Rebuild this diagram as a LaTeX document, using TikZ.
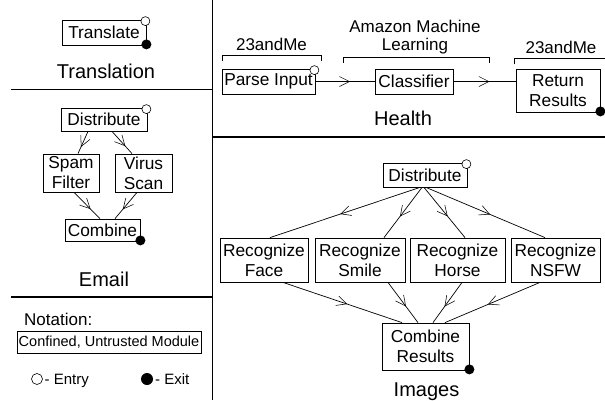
\documentclass[tikz,border=0pt]{standalone}
\usepackage{fontspec}
\setmainfont{Liberation Sans}
\usetikzlibrary{arrows.meta,decorations.markings,calc}

\begin{document}
\begin{tikzpicture}[x=1pt,y=-1pt,
  module/.style={draw, line width=0.8pt, inner sep=0pt, align=center,
    font=\fontsize{17.3}{20}\selectfont},
  entry/.style={circle, draw, fill=white, line width=0.6pt, minimum size=9pt, inner sep=0pt},
  exitpt/.style={circle, fill=black, minimum size=10pt, inner sep=0pt},
  flow/.style={line width=0.7pt, postaction={decorate},
    decoration={markings, mark=at position 0.5 with
      {\arrow[xshift=5pt]{Straight Barb[length=10pt,width=10pt,line width=0.55pt]}}}},
  grouptitle/.style={inner sep=0pt, anchor=base, font=\fontsize{20}{24}\selectfont},
  provider/.style={inner sep=0pt, font=\fontsize{17}{18.5}\selectfont, align=center},
  bracket/.style={line width=0.8pt},
  divider/.style={line width=1.2pt},
]
\useasboundingbox (0,0) rectangle (605,400);

% panel dividers
\draw[divider] (212.5,0) -- (212.5,400);
\draw[divider] (11,89.5) -- (212.5,89.5);
\draw[divider] (11,297) -- (212.5,297);
\draw[divider] (212.5,137) -- (605,137);

% ---- Translation ----
\node[module, minimum width=84pt, minimum height=25pt] (translate) at (104,32.5) {Translate};
\node[entry] (translate-in) at ($(translate.north east)+(-1,1.5)$) {};
\node[exitpt] (translate-out) at ($(translate.south east)+(0,-1)$) {};
\node[grouptitle] (t-translation) at (106,78) {Translation};

% ---- Email ----
\node[module, minimum width=86pt, minimum height=23pt] (distE) at (104,119.5) {Distribute};
\node[entry] (distE-in) at ($(distE.north east)+(-1,1.5)$) {};
\node[module, minimum width=56pt, minimum height=38pt] (spam) at (71,173) {Spam\\Filter};
\node[module, minimum width=57pt, minimum height=38pt] (virus) at (143.5,173) {Virus\\Scan};
\node[module, minimum width=75pt, minimum height=22pt] (combE) at (102.5,230) {Combine};
\node[exitpt] (combE-out) at ($(combE.south east)+(0,-1)$) {};
\draw[flow] ([xshift=-16pt]distE.south) -- ([xshift=7pt]spam.north);
\draw[flow] ([xshift=8pt]distE.south) -- ([xshift=-11.5pt]virus.north);
\draw[flow] ([xshift=3pt]spam.south) -- ([xshift=-2.5pt]combE.north);
\draw[flow] ([xshift=-6.5pt]virus.south) -- ([xshift=12.5pt]combE.north);
\node[grouptitle] (t-email) at (104,286.5) {Email};

% ---- Notation ----
\node[inner sep=0pt, anchor=base west, font=\fontsize{17}{20}\selectfont] (notation) at (24,325) {Notation:};
\node[draw, line width=0.8pt, inner sep=0pt, minimum width=184pt, minimum height=22pt,
  font=\fontsize{14.5}{17}\selectfont] (legend-box) at (109,342) {Confined, Untrusted Module};
\node[entry, minimum size=11pt] (legend-in) at (37,379) {};
\node[inner sep=0pt, anchor=base west, font=\fontsize{15}{18}\selectfont] (legend-in-text) at (44.5,384) {- Entry};
\node[exitpt, minimum size=12pt] (legend-out) at (147,379) {};
\node[inner sep=0pt, anchor=base west, font=\fontsize{15}{18}\selectfont] (legend-out-text) at (155,384) {- Exit};

% ---- Health ----
\node[module, minimum width=93pt, minimum height=25pt] (parse) at (268.5,81.5) {Parse Input};
\node[entry] (parse-in) at ($(parse.north east)+(-1,1.5)$) {};
\node[module, minimum width=78pt, minimum height=25pt] (classifier) at (414,81.5) {Classifier};
\node[module, minimum width=84pt, minimum height=43pt] (results) at (558,90.5) {Return\\Results};
\node[exitpt] (results-out) at ($(results.south east)+(0,-1)$) {};
\draw[flow] (parse.east) -- (classifier.west);
\draw[flow] (classifier.east) -- (classifier.east -| results.west);

\node[provider, anchor=base] (p-parse) at (271.5,50) {23andMe};
\node[provider, anchor=north] (p-classifier) at (415,19.7) {Amazon Machine\\Learning};
\node[provider, anchor=base] (p-results) at (561,53) {23andMe};
\draw[bracket] (222,61) -- (222,55) -- (321,55) -- (321,61);
\draw[bracket] (343,63) -- (343,57) -- (489,57) -- (489,63);
\draw[bracket] (514,64) -- (514,58) -- (605,58);
\node[grouptitle] (t-health) at (403,125) {Health};

% ---- Images ----
\node[module, minimum width=84pt, minimum height=24pt] (distI) at (425,175) {Distribute};
\node[entry] (distI-in) at ($(distI.north east)+(-1,1.5)$) {};
\node[module, minimum width=88pt, minimum height=44pt] (face) at (264,260) {Recognize\\Face};
\node[module, minimum width=90pt, minimum height=44pt] (smile) at (360,260) {Recognize\\Smile};
\node[module, minimum width=95pt, minimum height=44pt] (horse) at (457.5,260) {Recognize\\Horse};
\node[module, minimum width=89pt, minimum height=44pt] (nsfw) at (555.5,260) {Recognize\\NSFW};
\node[module, minimum width=87pt, minimum height=47pt] (combI) at (425.5,346.5) {Combine\\Results};
\node[exitpt] (combI-out) at ($(combI.south east)+(0,-1)$) {};

\draw[flow] ([xshift=-5pt]distI.south) -- ([xshift=6pt]face.north);
\draw[flow] ([xshift=-3pt]distI.south) -- ([xshift=24pt]smile.north);
\draw[flow] ([xshift=-1pt]distI.south) -- ([xshift=7.5pt]horse.north);
\draw[flow] ([xshift=1pt]distI.south) -- ([xshift=-10.5pt]nsfw.north);
\draw[flow] ([xshift=19pt]face.south) -- ([xshift=-23.5pt]combI.north);
\draw[flow] ([xshift=28pt]smile.south) -- ([xshift=-7.5pt]combI.north);
\draw[flow] ([xshift=4.5pt]horse.south) -- ([xshift=7.5pt]combI.north);
\draw[flow] ([xshift=-15.5pt]nsfw.south) -- ([xshift=19.5pt]combI.north);
\node[grouptitle] (t-images) at (426.5,396) {Images};

\end{tikzpicture}
\end{document}
